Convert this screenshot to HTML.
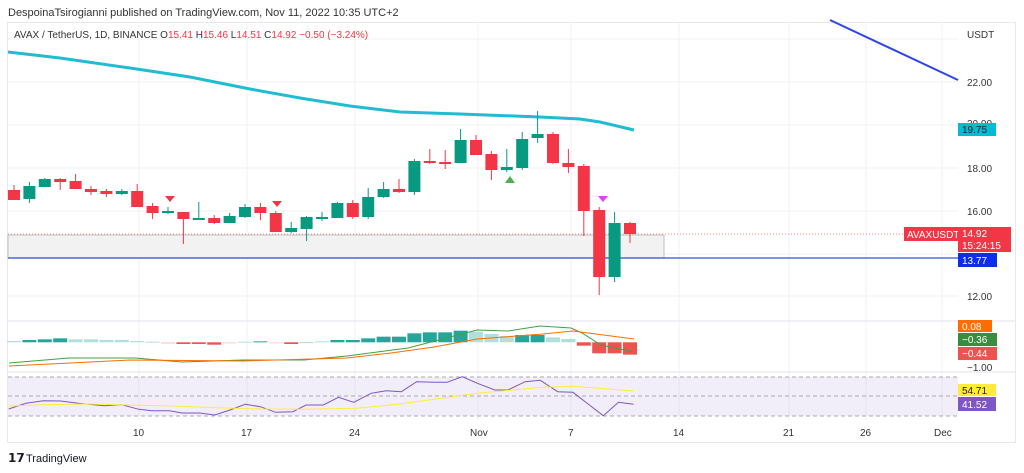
<!DOCTYPE html>
<html><head><meta charset="utf-8"><style>
body{margin:0;background:#fff;width:1024px;height:473px;overflow:hidden;font-family:"Liberation Sans",sans-serif}
svg{position:absolute;left:0;top:0}
</style></head><body>
<svg id="s" width="1024" height="473" viewBox="0 0 1024 473" font-family="Liberation Sans, sans-serif">
<rect width="1024" height="473" fill="#fff"/>
<text x="8" y="16" font-size="11" fill="#333">DespoinaTsirogianni published on TradingView.com, Nov 11, 2022 10:35 UTC+2</text>
<rect x="7.5" y="22.5" width="1008" height="420" fill="none" stroke="#e6e8ee"/>
<g id="grid" stroke="#f0f1f4" stroke-width="1"></g>
<line x1="8" y1="321" x2="1015" y2="321" stroke="#e0e3eb"/>
<line x1="8" y1="372" x2="1015" y2="372" stroke="#e0e3eb"/>
<!-- RSI band -->
<rect x="8" y="377" width="950" height="39" fill="#7e57c2" fill-opacity="0.1"/>
<g stroke="#aaa" stroke-dasharray="4,3"><line x1="8" y1="377" x2="958" y2="377"/><line x1="8" y1="396" x2="958" y2="396"/><line x1="8" y1="416" x2="958" y2="416"/></g>
<!-- zone -->
<rect x="8" y="235" width="656" height="23" fill="#f2f2f2" stroke="#c0c0c0"/>
<line x1="8" y1="258" x2="958" y2="258" stroke="#2f45e8" stroke-width="1.5" stroke-opacity="0.8"/>
<line x1="8" y1="234" x2="904" y2="234" stroke="#f23645" stroke-dasharray="1,2" stroke-opacity="0.6"/>
<line x1="830" y1="20" x2="958" y2="80" stroke="#2f45e8" stroke-width="2"/>
<polyline fill="none" stroke="#1fbcd2" stroke-width="3" points="8,52 60,58 130,68 190,77 250,89 300,98 350,106 400,112 460,114 540,117 580,119 600,122 634,130"/>
<g id="c"></g>
<g id="m"></g>
<polyline fill="none" stroke="#43a047" stroke-width="1" points="9,363 69,358 135,358 182,362 243,360 304,360 347,356 408,348 477,330 508,331 540,326 571,328 582,333 601,345 634,352"/>
<polyline fill="none" stroke="#ff6d00" stroke-width="1" points="9,366 130,360 243,361 347,358 391,353 434,347 477,339 543,334 573,331 634,339"/>
<polyline fill="none" stroke="#7e57c2" stroke-width="1" id="rsi"/>
<polyline fill="none" stroke="#ffeb3b" stroke-width="1" id="ma"/>
<!-- triangles -->
<polygon points="165,196 175,196 170,202" fill="#f23645"/>
<polygon points="272,201 282,201 277,207" fill="#f23645"/>
<polygon points="505,183 515,183 510,176" fill="#4caf50"/>
<polygon points="598,196 608,196 603,202" fill="#e040fb"/>
<text x="14" y="38" font-size="10" fill="#333">AVAX / TetherUS, 1D, BINANCE  O<tspan fill="#f23645">15.41</tspan>  H<tspan fill="#f23645">15.46</tspan>  L<tspan fill="#f23645">14.51</tspan>  C<tspan fill="#f23645">14.92</tspan>  <tspan fill="#f23645">−0.50 (−3.24%)</tspan></text>
<g font-size="10" fill="#333">
<text x="967" y="38">USDT</text>
<text x="967" y="86">22.00</text>
<text x="967" y="127">20.00</text>
<text x="967" y="172">18.00</text>
<text x="967" y="215">16.00</text>
<text x="967" y="300">12.00</text>
<text x="967" y="371">−1.00</text>
<text x="133" y="436">10</text><text x="241" y="436">17</text><text x="349" y="436">24</text>
<text x="470" y="436">Nov</text><text x="568" y="436">7</text><text x="673" y="436">14</text>
<text x="783" y="436">21</text><text x="860" y="436">26</text><text x="934" y="436">Dec</text>
</g>
<g font-size="10" fill="#fff">
<rect x="958" y="123" width="38" height="13" fill="#00bcd4"/><text x="962" y="133" fill="#222">19.75</text>
<rect x="904" y="227" width="54" height="14" fill="#f23645"/><text x="907" y="238">AVAXUSDT</text>
<rect x="958" y="227" width="53" height="25" fill="#f23645"/><text x="962" y="237">14.92</text><text x="962" y="249">15:24:15</text>
<rect x="958" y="253" width="39" height="14" fill="#0d2ee8"/><text x="962" y="264">13.77</text>
<rect x="958" y="320" width="34" height="12" fill="#ff6d00"/><text x="962" y="330">0.08</text>
<rect x="958" y="333" width="39" height="13" fill="#388e3c"/><text x="962" y="343">−0.36</text>
<rect x="958" y="347" width="39" height="13" fill="#ef5350"/><text x="962" y="357">−0.44</text>
<rect x="958" y="384" width="38" height="12" fill="#ffeb3b"/><text x="962" y="394" fill="#222">54.71</text>
<rect x="958" y="397" width="38" height="14" fill="#7e57c2"/><text x="962" y="408">41.52</text>
</g>
<text x="8" y="462" font-size="12" font-weight="bold" fill="#131722">𝟭𝟳</text>
<text x="26" y="462" font-size="11" fill="#131722">TradingView</text>
</svg>
<script>
var NS="http://www.w3.org/2000/svg";
function el(p,t,a){var e=document.createElementNS(NS,t);for(var k in a)e.setAttribute(k,a[k]);p.appendChild(e);return e;}
var g=document.getElementById('grid');
[139,247,355,478,571,679,789,866,942].forEach(function(x){el(g,'line',{x1:x,y1:23,x2:x,y2:420});});
[39,82,125,168,211,254,296].forEach(function(y){el(g,'line',{x1:8,y1:y,x2:958,y2:y});});
// [color, bodyTop, bodyBot, wickTop, wickBot]
var C=[['r',190,200,185,200],['g',186,199,182,203],['g',179,187,178,187],['r',179,182,178,190],['r',181,189,174,189],['r',189,192,186,195],['r',191,194,189,197],['g',191,194,189,195],['r',191,207,184,207],['r',206,213,203,219],['g',211,213,207,214],['r',212,219,212,244],['g',218,219,202,220],['r',218,223,215,224],['g',216,223,213,223],['g',207,217,204,218],['r',207,213,203,220],['r',213,232,211,232],['g',228,232,222,233],['g',217,229,216,241],['g',217,218,212,221],['g',203,218,202,218],['r',203,217,200,219],['g',197,217,188,219],['g',189,197,182,198],['r',189,192,179,193],['g',161,192,159,195],['r',161,163,149,164],['r',162,163,150,169],['g',140,163,129,163],['r',140,155,135,155],['r',154,170,151,180],['g',167,170,149,172],['g',139,168,132,170],['g',134,138,111,143],['r',134,163,132,164],['r',163,167,149,173],['r',166,211,164,236],['r',210,277,207,295],['g',223,277,212,282],['r',223,234,222,243]];
var cg=document.getElementById('c');
C.forEach(function(c,i){var x=14+i*15.4;var col=c[0]=='r'?'#f23645':'#089981';
el(cg,'line',{x1:x,y1:c[3],x2:x,y2:c[4],stroke:col,'stroke-width':1});
el(cg,'rect',{x:x-6,y:c[1],width:12,height:Math.max(2,c[2]-c[1]),fill:col});});
// MACD hist: [type, zy]
var H=[['l',93],['d',90],['d',88],['d',85],['l',88],['l',88],['l',90],['l',90],['l',93],['l',95],['p',101],['r',102],['r',102],['r',104],['p',100],['l',95],['d',94],['p',100],['r',102],['l',96],['l',94],['d',90],['d',90],['d',85],['d',80],['d',80],['d',70],['d',67],['d',67],['d',62],['l',65],['l',72],['l',78],['d',75],['d',75],['l',82],['l',87],['r',107],['r',130],['r',130],['r',134]];
var mg=document.getElementById('m');var cols={l:'#b2dfdb',d:'#26a69a',p:'#ffcdd2',r:'#ef5350'};
H.forEach(function(h,i){var x=14+i*15.4;var y=h[1]/3+310;var z=342.3;
el(mg,'rect',{x:x-7,y:Math.min(y,z),width:14,height:Math.max(1,Math.abs(y-z)),fill:cols[h[0]]});});
function pts(a){return a.map(function(p){return (p[0]*0.434).toFixed(1)+','+(p[1]/3+310).toFixed(1)}).join(' ');}
document.getElementById('rsi').setAttribute('points',pts([[20,297],[60,280],[100,272],[140,273],[180,280],[240,287],[280,284],[320,298],[350,302],[390,302],[420,309],[460,309],[495,315],[530,300],[565,283],[600,290],[635,307],[675,305],[705,285],[745,285],[780,262],[815,277],[855,250],[890,242],[925,245],[960,215],[1000,217],[1030,217],[1065,200],[1100,220],[1140,240],[1170,240],[1210,215],[1245,211],[1285,245],[1320,247],[1355,282],[1390,317],[1425,277],[1460,283]]));
document.getElementById('ma').setAttribute('points',pts([[20,288],[100,284],[200,282],[300,285],[400,288],[500,293],[600,297],[700,298],[820,295],[920,282],[1000,268],[1100,250],[1180,240],[1250,232],[1320,229],[1400,237],[1460,243]]));
</script>
</body></html>
